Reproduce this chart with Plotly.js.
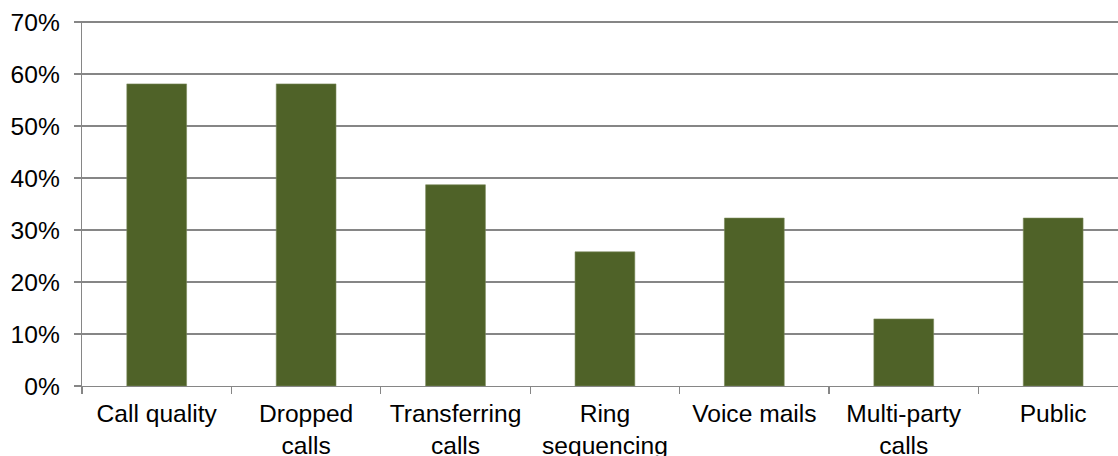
<!DOCTYPE html>
<html>
<head>
<meta charset="utf-8">
<script src="https://cdn.plot.ly/plotly-3.0.1.min.js"></script>
<style>
  html, body { margin: 0; padding: 0; background: #ffffff; overflow: hidden; }
  #chart { width: 1118px; height: 456px; }
</style>
</head>
<body>
<div id="chart"></div>
<script>
// Share of respondents reporting each issue
const categories = [
  "Call quality",
  "Dropped<br>calls",
  "Transferring<br>calls",
  "Ring<br>sequencing",
  "Voice mails",
  "Multi-party<br>calls",
  "Public"
];
const shares = [0.581, 0.581, 0.387, 0.258, 0.323, 0.129, 0.323];
const yTickValues = [0, 0.1, 0.2, 0.3, 0.4, 0.5, 0.6, 0.7];
const yTickLabels = ["0%", "10%", "20%", "30%", "40%", "50%", "60%", "70%"];

const axisGray = "#868686";
const labelFont = { family: "Liberation Sans, Arial, sans-serif", size: 24.6, color: "#000000" };

const trace = {
  type: "bar",
  x: categories,
  y: shares,
  width: 0.4,
  marker: { color: "#4F6228", line: { color: "#7a8a5a", width: 0.6 } },
  hoverinfo: "skip"
};

const layout = {
  width: 1118,
  height: 456,
  margin: { l: 82, r: 0, t: 21, b: 70, pad: 0 },
  paper_bgcolor: "#ffffff",
  plot_bgcolor: "#ffffff",
  showlegend: false,
  bargap: 0.6,
  font: labelFont,
  xaxis: {
    type: "category",
    range: [-0.5, 6.434],
    tickson: "boundaries",
    ticks: "outside",
    ticklen: 7,
    tickwidth: 1.3,
    tickcolor: axisGray,
    showline: true,
    linecolor: axisGray,
    linewidth: 1.3,
    showgrid: false,
    zeroline: false,
    tickfont: labelFont,
    ticklabelstandoff: 5,
    fixedrange: true
  },
  yaxis: {
    range: [0, 0.702],
    tickvals: yTickValues,
    ticktext: yTickLabels,
    ticks: "outside",
    ticklen: 7,
    tickwidth: 1.3,
    tickcolor: axisGray,
    showline: true,
    linecolor: axisGray,
    linewidth: 1.3,
    showgrid: true,
    gridcolor: axisGray,
    gridwidth: 1.3,
    zeroline: false,
    tickfont: labelFont,
    ticklabelstandoff: 9,
    fixedrange: true
  }
};

Plotly.newPlot("chart", [trace], layout, { displayModeBar: false, staticPlot: true });
</script>
</body>
</html>
